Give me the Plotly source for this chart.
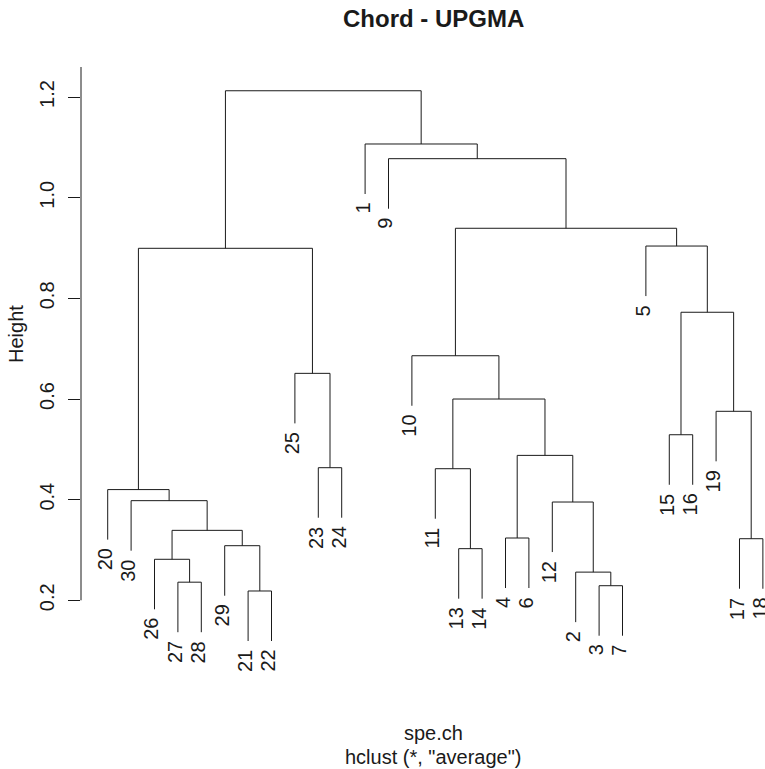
import plotly.graph_objects as go

# Leaf order along the x axis (site numbers)
leaf_order = [20, 30, 26, 27, 28, 29, 21, 22, 25, 23, 24, 1, 9, 10, 11, 13, 14,
              4, 6, 12, 2, 3, 7, 5, 15, 16, 19, 17, 18]

# hclust-style merge table: negative = site, positive = earlier merge step (1-based)
merge_left = [-21, -3, -27, -2, -26, -13, -29, -17, -4, 5, -12, -30, -20, -11,
              -23, 9, -15, -19, 14, -25, -10, 17, 13, -5, 21, -9, -1, 23]
merge_right = [-22, -7, -28, 2, 3, -14, 1, -18, -6, 7, 4, 10, 12, 6,
               -24, 11, -16, 8, 16, 15, 19, 18, 20, 22, 24, 25, 26, 27]
merge_height = [0.2185, 0.229, 0.236, 0.256, 0.2815, 0.3026, 0.3085, 0.3224,
                0.3238, 0.339, 0.3953, 0.398, 0.420, 0.4615, 0.4635, 0.488,
                0.529, 0.5756, 0.600, 0.651, 0.686, 0.7724, 0.8995, 0.904,
                0.9393, 1.0776, 1.1068, 1.2126]

y_tick_vals = [0.2, 0.4, 0.6, 0.8, 1.0, 1.2]
y_tick_text = ["0.2", "0.4", "0.6", "0.8", "1.0", "1.2"]

title_text = "Chord - UPGMA"
x_title = "spe.ch"
sub_title = 'hclust (*, "average")'
y_title = "Height"

FONT = "Liberation Sans, Arial, Helvetica, sans-serif"
INK = "#1a1a1a"

hang = 0.1 * (max(merge_height) - min(merge_height))
leaf_pos = {site: i for i, site in enumerate(leaf_order)}

node_x, node_y = {}, {}
seg_x, seg_y = [], []
leaf_tips = []


def child(ref, h):
    """Return (x, top y) of a child and register leaf tips."""
    if ref < 0:
        site = -ref
        x = leaf_pos[site]
        y = h - hang
        leaf_tips.append((site, x, y))
        return x, y
    return node_x[ref], node_y[ref]


for k, (a, b, h) in enumerate(zip(merge_left, merge_right, merge_height), start=1):
    xa, ya = child(a, h)
    xb, yb = child(b, h)
    if xa > xb:
        xa, ya, xb, yb = xb, yb, xa, ya
    seg_x += [xa, xa, xb, xb, None]
    seg_y += [ya, h, h, yb, None]
    node_x[k] = (xa + xb) / 2
    node_y[k] = h

fig = go.Figure()
fig.add_trace(go.Scatter(x=seg_x, y=seg_y, mode="lines",
                         line=dict(color=INK, width=1), hoverinfo="skip",
                         showlegend=False))

W, H = 765, 769
L, T, B = 81, 67, 106
x_range = [-1.141, 28.09]
y_range = [0.0754, 1.2598]

annotations = []
for site, x, y in leaf_tips:
    annotations.append(dict(x=x, y=y, xref="x", yref="y", text=str(site),
                            textangle=-90, showarrow=False, xanchor="center",
                            yanchor="top", yshift=-7, xshift=-3,
                            font=dict(family=FONT, size=20, color=INK)))

plot_w = W - L
plot_h = H - T - B


def px_to_paper(px, py):
    return (px - L) / plot_w, (H - B - py) / plot_h


tx, ty = px_to_paper(433.5, 18)
annotations.append(dict(x=tx, y=ty, xref="paper", yref="paper", text="<b>" + title_text + "</b>",
                        showarrow=False, xanchor="center", yanchor="middle",
                        font=dict(family=FONT, size=24, color=INK)))
sx, sy = px_to_paper(433.5, 733)
annotations.append(dict(x=sx, y=sy, xref="paper", yref="paper", text=x_title,
                        showarrow=False, xanchor="center", yanchor="middle",
                        font=dict(family=FONT, size=20, color=INK)))
hx, hy = px_to_paper(433.5, 757)
annotations.append(dict(x=hx, y=hy, xref="paper", yref="paper", text=sub_title,
                        showarrow=False, xanchor="center", yanchor="middle",
                        font=dict(family=FONT, size=20, color=INK)))
gx, gy = px_to_paper(16, 334)
annotations.append(dict(x=gx, y=gy, xref="paper", yref="paper", text=y_title,
                        textangle=-90, showarrow=False, xanchor="center",
                        yanchor="middle", font=dict(family=FONT, size=20, color=INK)))

fig.update_layout(
    width=W, height=H,
    margin=dict(l=L, r=0, t=T, b=B, pad=0),
    paper_bgcolor="white", plot_bgcolor="white",
    showlegend=False,
    xaxis=dict(range=x_range, showgrid=False, zeroline=False, showline=False,
               showticklabels=False, ticks="", fixedrange=True),
    yaxis=dict(range=y_range, showgrid=False, zeroline=False, showline=False,
               tickmode="array", tickvals=y_tick_vals, ticktext=y_tick_text,
               ticks="outside", ticklen=12, tickwidth=1, tickcolor=INK,
               tickangle=-90, ticklabelstandoff=6,
               tickfont=dict(family=FONT, size=20, color=INK), fixedrange=True),
    annotations=annotations,
    shapes=[dict(type="line", xref="paper", yref="y", x0=0, x1=0,
                 y0=y_tick_vals[0], y1=y_range[1],
                 line=dict(color=INK, width=1))],
)

fig.write_html("out.html")
